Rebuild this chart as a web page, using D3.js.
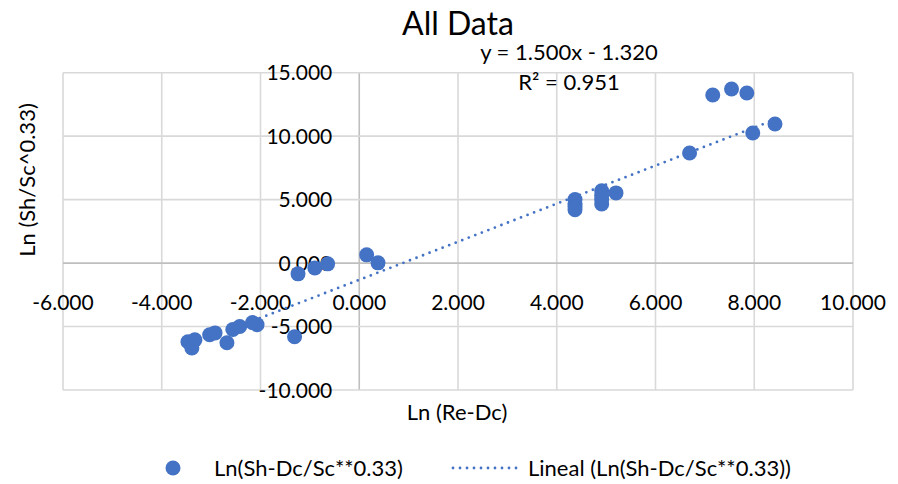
<!DOCTYPE html>
<html lang="en">
<head>
    <meta charset="UTF-8">
    <title>All Data</title>
    <script src="https://d3js.org/d3.v7.min.js"></script>
    <style>
        body { margin: 0; background: #fff; }
        svg text { font-family: Lato, "Open Sans", sans-serif; fill: #000; }
    </style>
</head>
<body>
    <div id="chart"></div>
    <script>
        // data
        const xValues = [-3.47, -3.33, -3.39, -3.03, -2.92, -2.68, -2.56, -2.42, -2.16, -2.07,
            -1.31, -1.24, -0.90, -0.64, 0.15, 0.38,
            4.37, 4.37, 4.37, 4.37, 4.91, 4.91, 4.91, 4.91, 5.20,
            6.69, 7.16, 7.54, 7.85, 7.97, 8.42];
        const yValues = [-6.20, -6.05, -6.69, -5.65, -5.50, -6.28, -5.23, -5.00, -4.69, -4.85,
            -5.81, -0.85, -0.38, -0.06, 0.65, 0.02,
            5.00, 4.70, 4.45, 4.20, 5.70, 5.35, 5.00, 4.65, 5.53,
            8.67, 13.24, 13.72, 13.40, 10.25, 10.96];
        const xTicks = [-6, -4, -2, 0, 2, 4, 6, 8, 10];
        const yTicks = [-10, -5, 0, 5, 10, 15];
        const trendSlope = 1.5;
        const trendIntercept = -1.32;
        const rSquared = 0.951;

        const W = 898, H = 484;
        const plot = { left: 63, right: 853, top: 72.7, bottom: 390 };
        const blue = "#4472C4";

        const svg = d3.select("#chart").append("svg")
            .attr("width", W).attr("height", H);

        const x = d3.scaleLinear().domain([-6, 10]).range([plot.left, plot.right]);
        const y = d3.scaleLinear().domain([-10, 15]).range([plot.bottom, plot.top]);

        // gridlines
        svg.append("g").selectAll("line").data(xTicks).join("line")
            .attr("x1", d => x(d)).attr("x2", d => x(d))
            .attr("y1", plot.top).attr("y2", plot.bottom)
            .attr("stroke", d => d === 0 ? "#bfbfbf" : "#d9d9d9").attr("stroke-width", 1.6);
        svg.append("g").selectAll("line").data(yTicks).join("line")
            .attr("y1", d => y(d)).attr("y2", d => y(d))
            .attr("x1", plot.left).attr("x2", plot.right)
            .attr("stroke", d => d === 0 ? "#bfbfbf" : "#d9d9d9").attr("stroke-width", 1.6);

        // plain hyphen for negatives, like the original
        const fmt = d3.formatLocale({ decimal: ".", thousands: ",", grouping: [3], currency: ["", ""], minus: "-" }).format(".3f");

        // x tick labels sit under the y=0 axis
        svg.append("g").selectAll("text").data(xTicks).join("text")
            .attr("x", d => x(d)).attr("y", y(0) + 47)
            .attr("text-anchor", "middle")
            .style("font-size", "21px")
            .text(d => fmt(d));

        // y tick labels sit left of the x=0 axis
        svg.append("g").selectAll("text").data(yTicks).join("text")
            .attr("x", x(0) - 27).attr("y", d => y(d) + 7.5)
            .attr("text-anchor", "end")
            .style("font-size", "21px")
            .text(d => fmt(d));

        // trendline over the data range
        const xr = d3.extent(xValues);
        svg.append("line")
            .attr("x1", x(xr[0])).attr("y1", y(trendSlope * xr[0] + trendIntercept))
            .attr("x2", x(xr[1])).attr("y2", y(trendSlope * xr[1] + trendIntercept))
            .attr("stroke", blue).attr("stroke-width", 2.8)
            .attr("stroke-linecap", "round").attr("stroke-dasharray", "0,7");

        // points
        svg.append("g").selectAll("circle").data(xValues).join("circle")
            .attr("cx", d => x(d)).attr("cy", (d, i) => y(yValues[i]))
            .attr("r", 7.5).attr("fill", blue);

        // title
        svg.append("text").attr("x", 458).attr("y", 35)
            .attr("text-anchor", "middle").style("font-size", "32px")
            .text("All Data");

        // equation + R²
        svg.append("text").attr("x", 569).attr("y", 60)
            .attr("text-anchor", "middle").style("font-size", "22px")
            .text(`y = ${trendSlope.toFixed(3)}x - ${Math.abs(trendIntercept).toFixed(3)}`);
        svg.append("text").attr("x", 569).attr("y", 90)
            .attr("text-anchor", "middle").style("font-size", "22px")
            .text(`R² = ${rSquared.toFixed(3)}`);

        // axis titles
        svg.append("text").attr("x", 457).attr("y", 420)
            .attr("text-anchor", "middle").style("font-size", "22px")
            .text("Ln (Re-Dc)");
        svg.append("text")
            .attr("transform", "translate(35,180) rotate(-90)")
            .attr("text-anchor", "middle").style("font-size", "22px")
            .text("Ln (Sh/Sc^0.33)");

        // legend
        const lg = svg.append("g");
        lg.append("circle").attr("cx", 173).attr("cy", 468).attr("r", 7.5).attr("fill", blue);
        lg.append("text").attr("x", 214).attr("y", 476).style("font-size", "22px")
            .text("Ln(Sh-Dc/Sc**0.33)");
        lg.append("line").attr("x1", 453).attr("x2", 517).attr("y1", 468).attr("y2", 468)
            .attr("stroke", blue).attr("stroke-width", 2.8)
            .attr("stroke-linecap", "round").attr("stroke-dasharray", "0,7");
        lg.append("text").attr("x", 528).attr("y", 476).style("font-size", "22px")
            .text("Lineal (Ln(Sh-Dc/Sc**0.33))");
    </script>
</body>
</html>
